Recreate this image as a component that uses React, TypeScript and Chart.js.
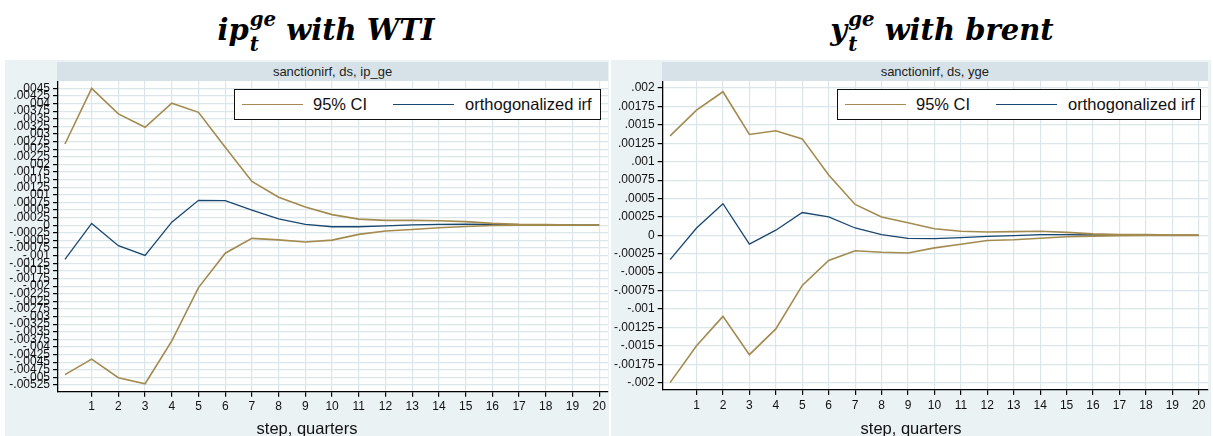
import React, { useEffect, useRef } from "react";
import { Chart, registerables } from "chart.js";

Chart.register(...registerables);

// ---------------- data ----------------
const steps = [0, 1, 2, 3, 4, 5, 6, 7, 8, 9, 10, 11, 12, 13, 14, 15, 16, 17, 18, 19, 20];
const xTickValues = [1, 2, 3, 4, 5, 6, 7, 8, 9, 10, 11, 12, 13, 14, 15, 16, 17, 18, 19, 20];
const seriesNames = ["95% CI", "orthogonalized irf"];

// ip_ge with WTI
const ipUpper = [0.00267, 0.0045, 0.00366, 0.00322, 0.00401, 0.00371, 0.00256, 0.00144, 0.00092, 0.0006, 0.00035, 0.0002, 0.00016, 0.00016, 0.00015, 0.00012, 0.00006, 0.00003, 0.00002, 0.00001, 0.00001];
const ipIrf = [-0.00112, 0.00006, -0.00067, -0.00099, 0.0001, 0.00082, 0.00081, 0.0005, 0.00021, 0.00003, -0.00005, -0.00005, -0.00002, 0.00001, 0.00003, 0.00004, 0.00003, 0.00002, 0.00002, 0.00001, 0.00001];
const ipLower = [-0.00491, -0.0044, -0.00501, -0.00521, -0.0038, -0.00205, -0.00092, -0.00043, -0.00048, -0.00055, -0.00049, -0.0003, -0.00019, -0.00014, -0.00008, -0.00004, -0.00001, 0, 0, 0, 0];
const ipYTicks = [0.0045, 0.00425, 0.004, 0.00375, 0.0035, 0.00325, 0.003, 0.00275, 0.0025, 0.00225, 0.002, 0.00175, 0.0015, 0.00125, 0.001, 0.00075, 0.0005, 0.00025, 0, -0.00025, -0.0005, -0.00075, -0.001, -0.00125, -0.0015, -0.00175, -0.002, -0.00225, -0.0025, -0.00275, -0.003, -0.00325, -0.0035, -0.00375, -0.004, -0.00425, -0.0045, -0.00475, -0.005, -0.00525];

// yge with brent
const yUpper = [0.00135, 0.0017, 0.00195, 0.00137, 0.00142, 0.00131, 0.00082, 0.00042, 0.00025, 0.00017, 0.00009, 0.000055, 0.000045, 0.00005, 0.000055, 0.00004, 0.00002, 0.00001, 0.00001, 0.000005, 0.000005];
const yIrf = [-0.00033, 0.0001, 0.00043, -0.00012, 0.00007, 0.00031, 0.00025, 0.0001, 0.00001, -0.00004, -0.000045, -0.00003, -0.000015, -0.000005, 0.00001, 0.00001, 0.000005, 0, 0, 0, 0];
const yLower = [-0.002, -0.0015, -0.0011, -0.00162, -0.00127, -0.00068, -0.00034, -0.00021, -0.00023, -0.00024, -0.00017, -0.00012, -0.00007, -0.00006, -0.00004, -0.00002, -0.00001, -0.000005, 0, 0, 0];
const yYTicks = [0.002, 0.00175, 0.0015, 0.00125, 0.001, 0.00075, 0.0005, 0.00025, 0, -0.00025, -0.0005, -0.00075, -0.001, -0.00125, -0.0015, -0.00175, -0.002];

// ---------------- style ----------------
const FONT = "'Liberation Sans', Arial, Helvetica, sans-serif";
const GOLD = "#a38b4f";
const NAVY = "#1a476f";
const GRID = "#dbe6eb";
const BG = "#eaf2f3";
const BAND = "#d6e2e8";

function stataFmt(v: number): string {
  if (Math.abs(v) < 1e-12) return "0";
  const s = parseFloat(v.toFixed(6)).toString();
  return s.replace(/^(-?)0\./, "$1.");
}

const whiteArea = {
  id: "whiteArea",
  beforeDraw(chart: any) {
    const { ctx, chartArea } = chart;
    ctx.save();
    ctx.fillStyle = "#ffffff";
    ctx.fillRect(chartArea.left, chartArea.top, chartArea.right - chartArea.left, chartArea.bottom - chartArea.top);
    ctx.restore();
  },
};

type PanelProps = {
  left: number;
  width: number;
  yAxisWidth: number;
  xAxisHeight: number;
  padTop: number;
  padRight: number;
  xMin: number;
  xMax: number;
  yMin: number;
  yMax: number;
  upper: number[];
  irf: number[];
  lower: number[];
  yTicks: number[];
  header: string;
  legendLeft: number;
  legendWidth: number;
};

function Panel(p: PanelProps) {
  const ref = useRef<HTMLCanvasElement | null>(null);
  useEffect(() => {
    if (!ref.current) return;
    const pts = (arr: number[]) => steps.map((s, i) => ({ x: s, y: arr[i] }));
    const chart = new Chart(ref.current, {
      type: "line",
      data: {
        datasets: [
          { label: seriesNames[0], data: pts(p.upper), borderColor: GOLD, borderWidth: 1.6 },
          { label: seriesNames[0], data: pts(p.lower), borderColor: GOLD, borderWidth: 1.6 },
          { label: seriesNames[1], data: pts(p.irf), borderColor: NAVY, borderWidth: 1.3 },
        ],
      },
      options: {
        animation: false,
        responsive: false,
        maintainAspectRatio: false,
        layout: { padding: { left: 0, top: p.padTop, right: p.padRight, bottom: 0 } },
        elements: { point: { radius: 0 }, line: { tension: 0 } },
        plugins: { legend: { display: false }, tooltip: { enabled: false }, title: { display: false } },
        scales: {
          x: {
            type: "linear",
            min: p.xMin,
            max: p.xMax,
            afterBuildTicks: (s: any) => {
              s.ticks = xTickValues.map((v) => ({ value: v }));
            },
            afterFit: (s: any) => {
              s.height = p.xAxisHeight;
              s.paddingLeft = 0;
              s.paddingRight = 0;
            },
            grid: { color: GRID, lineWidth: 1.2, tickColor: "#000", tickLength: 5 },
            border: { color: "#000", width: 1.3 },
            ticks: {
              autoSkip: false,
              maxRotation: 0,
              padding: 3,
              color: "#111",
              font: { family: FONT, size: 12 },
              callback: (v: any) => String(v),
            },
          },
          y: {
            type: "linear",
            min: p.yMin,
            max: p.yMax,
            afterBuildTicks: (s: any) => {
              s.ticks = p.yTicks.map((v) => ({ value: v }));
            },
            afterFit: (s: any) => {
              s.width = p.yAxisWidth;
              s.paddingTop = 0;
              s.paddingBottom = 0;
            },
            grid: { color: GRID, lineWidth: 1.2, tickColor: "#000", tickLength: 5 },
            border: { color: "#000", width: 1.3 },
            ticks: {
              autoSkip: false,
              padding: 3,
              color: "#111",
              font: { family: FONT, size: 12 },
              callback: (v: any) => stataFmt(Number(v)),
            },
          },
        },
      },
      plugins: [whiteArea],
    } as any);
    return () => chart.destroy();
  }, []);

  const areaLeft = p.yAxisWidth;
  const areaRight = p.width - p.padRight;
  return (
    <div style={{ position: "absolute", left: p.left, top: 60, width: p.width, height: 376, background: BG }}>
      <canvas ref={ref} width={p.width} height={376} style={{ position: "absolute", left: 0, top: 0, width: p.width, height: 376 }} />
      <div
        style={{
          position: "absolute",
          left: areaLeft - 1,
          top: 1.7,
          width: areaRight - areaLeft + 1,
          height: 19,
          background: BAND,
          font: `13px ${FONT}`,
          color: "#222",
          textAlign: "center",
          lineHeight: "19px",
        }}
      >
        {p.header}
      </div>
      <div
        style={{
          position: "absolute",
          left: 0,
          width: p.width,
          top: 358,
          textAlign: "center",
          font: `16.5px ${FONT}`,
          color: "#111",
          lineHeight: "20px",
        }}
      >
        step, quarters
      </div>
      <div
        style={{
          position: "absolute",
          left: p.legendLeft,
          top: 28.7,
          width: p.legendWidth,
          height: 31,
          boxSizing: "border-box",
          background: "#fff",
          border: "1.3px solid #111",
          display: "flex",
          alignItems: "center",
          paddingLeft: 7,
          font: `16.5px ${FONT}`,
          color: "#111",
          whiteSpace: "nowrap",
        }}
      >
        <span style={{ display: "inline-block", width: 61, height: 0, borderTop: `1.6px solid ${GOLD}` }} />
        <span style={{ marginLeft: 10 }}>{seriesNames[0]}</span>
        <span style={{ display: "inline-block", width: 61, height: 0, borderTop: `1.3px solid ${NAVY}`, marginLeft: 26 }} />
        <span style={{ marginLeft: 11 }}>{seriesNames[1]}</span>
      </div>
    </div>
  );
}

function MainTitle({ center, base, sub, rest }: { center: number; base: string; sub: string; rest: string }) {
  return (
    <div
      style={{
        position: "absolute",
        left: center - 250,
        width: 500,
        top: 7,
        textAlign: "center",
        fontFamily: "'DejaVu Serif', serif",
        fontWeight: "bold",
        fontStyle: "italic",
        fontSize: 29,
        lineHeight: "46px",
        color: "#000",
        whiteSpace: "nowrap",
      }}
    >
      <span>{base}</span>
      <span
        style={{
          display: "inline-block",
          verticalAlign: "-0.55em",
          fontSize: "0.68em",
          lineHeight: 1.25,
          textAlign: "left",
          marginLeft: 1,
        }}
      >
        <span style={{ display: "block" }}>ge</span>
        <span style={{ display: "block" }}>{sub}</span>
      </span>
      <span> {rest}</span>
    </div>
  );
}

export default function App() {
  return (
    <div style={{ position: "fixed", left: 0, top: 0, width: 1213, height: 436, background: "#fff", overflow: "hidden" }}>
      <MainTitle center={326} base="ip" sub="t" rest="with WTI" />
      <MainTitle center={942} base="y" sub="t" rest="with brent" />
      <Panel
        left={5}
        width={604}
        yAxisWidth={53}
        xAxisHeight={44.3}
        padTop={20.7}
        padRight={1}
        xMin={-0.26}
        xMax={20.33}
        yMin={-0.00547}
        yMax={0.00475}
        upper={ipUpper}
        irf={ipIrf}
        lower={ipLower}
        yTicks={ipYTicks}
        header="sanctionirf, ds, ip_ge"
        legendLeft={229}
        legendWidth={367}
      />
      <Panel
        left={611}
        width={600}
        yAxisWidth={51.7}
        xAxisHeight={46}
        padTop={20.7}
        padRight={3}
        xMin={-0.28}
        xMax={20.35}
        yMin={-0.0021}
        yMax={0.0021}
        upper={yUpper}
        irf={yIrf}
        lower={yLower}
        yTicks={yYTicks}
        header="sanctionirf, ds, yge"
        legendLeft={226}
        legendWidth={364}
      />
    </div>
  );
}
